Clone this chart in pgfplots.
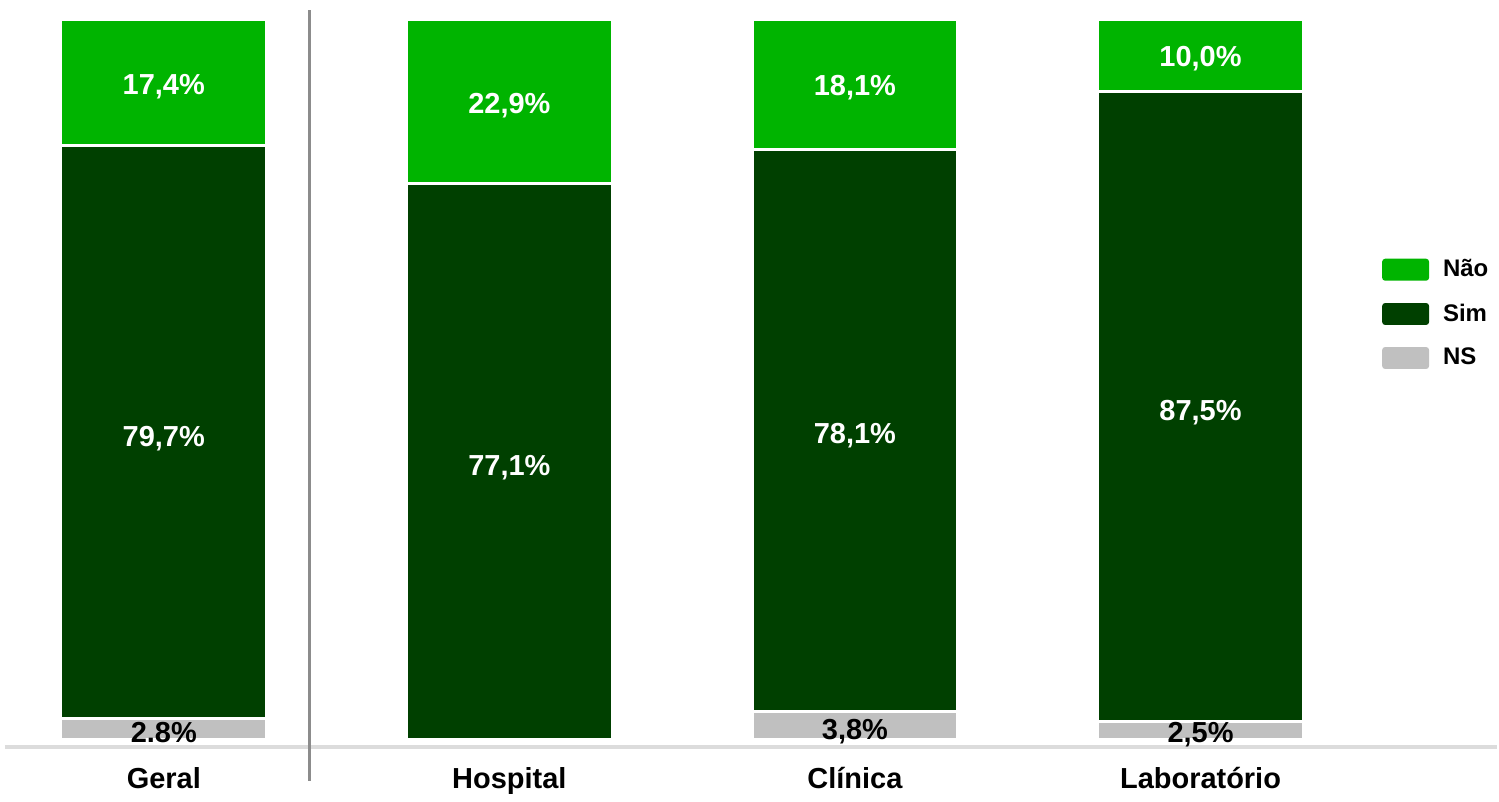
\documentclass[border=0pt]{standalone}
\usepackage{pgfplots}
\pgfplotsset{compat=1.18}
\usepackage{fontspec}
\setmainfont{Liberation Sans}
\definecolor{nao}{RGB}{0,180,0}
\definecolor{sim}{RGB}{0,64,0}
\definecolor{ns}{RGB}{192,192,192}
\definecolor{base}{RGB}{220,220,220}
\definecolor{sep}{RGB}{140,140,140}
\begin{document}
\begin{tikzpicture}[vlab/.style={anchor=base, font=\fontsize{14.5}{17}\selectfont\bfseries}]
\begin{axis}[
  scale only axis,
  width=749.5pt, height=400.5pt,
  xmin=-0.474, xmax=3.858,
  ymin=-8.46, ymax=102.64,
  axis lines=none,
  xtick=\empty, ytick=\empty,
  ybar stacked,
  bar width=0.595,
  clip=false,
  reverse legend,
  legend cell align=left,
  legend style={at={(rel axis cs:0.923,0.681)}, anchor=north west, draw=none, fill=none,
    font=\fontsize{12}{14}\selectfont\bfseries, row sep=8pt, inner sep=0pt,
    /tikz/every odd column/.append style={column sep=5pt}},
  legend image code/.code={\draw[#1, draw=none, rounded corners=1.5pt] (0pt,-5.5pt) rectangle (23.5pt,5.5pt);},
]
\addplot[fill=ns, draw=white, line width=1.5pt] coordinates {(0,2.8) (1,0) (2,3.8) (3,2.5)};
\addplot[fill=sim, draw=white, line width=1.5pt] coordinates {(0,79.7) (1,77.1) (2,78.1) (3,87.5)};
\addplot[fill=nao, draw=white, line width=1.5pt] coordinates {(0,17.4) (1,22.9) (2,18.1) (3,10.0)};
\legend{NS,Sim,Não}
\coordinate (bl) at (axis cs:-0.46,-1.1);
\coordinate (br) at (axis cs:3.858,-1.1);
\coordinate (st) at (axis cs:0.422,101.2);
\coordinate (sb) at (axis cs:0.422,-5.83);
\coordinate (g1) at (axis cs:0,89.46);
\coordinate (g2) at (axis cs:0,40.64);
\coordinate (g3) at (axis cs:0,-0.42);
\coordinate (h1) at (axis cs:1,86.82);
\coordinate (h2) at (axis cs:1,36.61);
\coordinate (c1) at (axis cs:2,89.32);
\coordinate (c2) at (axis cs:2,41.05);
\coordinate (c3) at (axis cs:2,0);
\coordinate (l1) at (axis cs:3,93.34);
\coordinate (l2) at (axis cs:3,44.24);
\coordinate (l3) at (axis cs:3,-0.42);
\coordinate (x0) at (axis cs:0,-6.93);
\coordinate (x1) at (axis cs:1,-6.93);
\coordinate (x2) at (axis cs:2,-6.93);
\coordinate (x3) at (axis cs:3,-6.93);
\path (rel axis cs:0,0) rectangle (rel axis cs:1,1);
\end{axis}
\draw[base, line width=2pt] (bl) -- (br);
\draw[sep, line width=1.5pt] (st) -- (sb);
\node[vlab, white] at (g1) {17,4\%};
\node[vlab, white] at (g2) {79,7\%};
\node[vlab, black] at (g3) {2.8\%};
\node[vlab, white] at (h1) {22,9\%};
\node[vlab, white] at (h2) {77,1\%};
\node[vlab, white] at (c1) {18,1\%};
\node[vlab, white] at (c2) {78,1\%};
\node[vlab, black] at (c3) {3,8\%};
\node[vlab, white] at (l1) {10,0\%};
\node[vlab, white] at (l2) {87,5\%};
\node[vlab, black] at (l3) {2,5\%};
\node[vlab] at (x0) {Geral};
\node[vlab] at (x1) {Hospital};
\node[vlab] at (x2) {Clínica};
\node[vlab] at (x3) {Laboratório};
\end{tikzpicture}
\end{document}
